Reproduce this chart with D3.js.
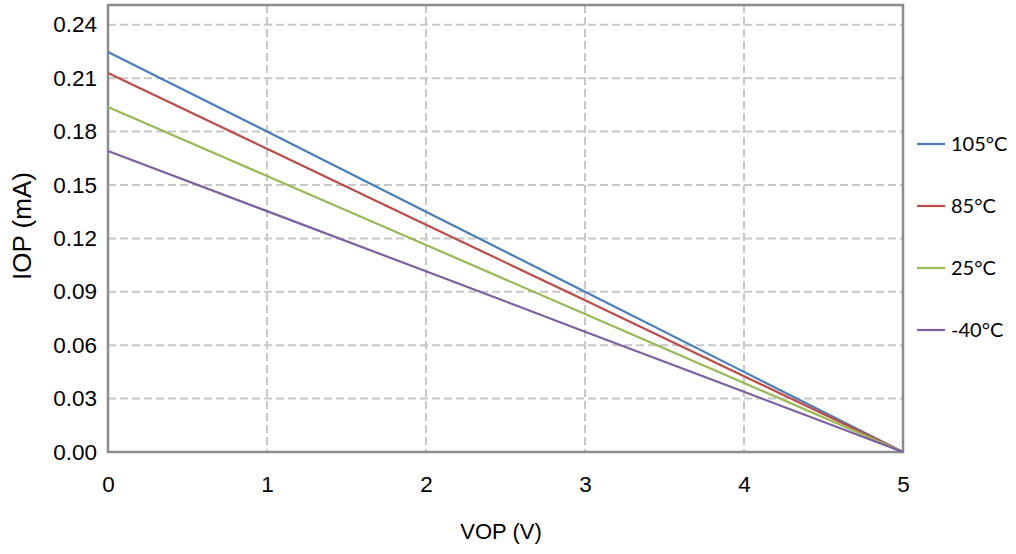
<!DOCTYPE html>
<html>
<head>
<meta charset="utf-8">
<script src="https://cdn.jsdelivr.net/npm/d3@7"></script>
<style>
  body { margin: 0; background: #fff; }
  svg { display: block; }
</style>
</head>
<body>
<div id="chart"></div>
<script>
const vop = [0, 1, 2, 3, 4, 5]
const seriesNames = ['105°C', '85°C', '25°C', '-40°C']
const seriesColors = ['#4a7ebb', '#be4b48', '#98b954', '#7d60a0']
const iop105 = [0.2247, 0.1800, 0.1350, 0.0900, 0.0450, 0]
const iop85 = [0.2129, 0.1703, 0.1277, 0.0852, 0.0426, 0]
const iop25 = [0.1938, 0.1550, 0.1163, 0.0775, 0.0388, 0]
const iopM40 = [0.1691, 0.1353, 0.1015, 0.0676, 0.0338, 0]
const yTicks = [0, 0.03, 0.06, 0.09, 0.12, 0.15, 0.18, 0.21, 0.24]
const xTicks = [0, 1, 2, 3, 4, 5]

const series = [iop105, iop85, iop25, iopM40].map((vals, i) => ({
  name: seriesNames[i],
  color: seriesColors[i],
  values: vals.map((v, j) => ({ x: vop[j], y: v }))
}))

const W = 1016
const H = 554
const margin = { top: 5, right: 113, bottom: 102, left: 108 }
const width = W - margin.left - margin.right
const height = H - margin.top - margin.bottom
const axisFont = 'Liberation Sans, Arial, sans-serif'

const svg = d3.select('#chart')
  .append('svg')
  .attr('width', W)
  .attr('height', H)

const g = svg.append('g')
  .attr('transform', `translate(${margin.left},${margin.top})`)

const x = d3.scaleLinear().domain([0, 5]).range([0, width])
const y = d3.scaleLinear().domain([0, 0.2511]).range([height, 0])

// grid
g.append('g')
  .selectAll('line')
  .data(yTicks.slice(1))
  .join('line')
  .attr('x1', 0)
  .attr('x2', width)
  .attr('y1', d => y(d))
  .attr('y2', d => y(d))
  .attr('stroke', '#c8c8c8')
  .attr('stroke-width', 2)
  .attr('stroke-dasharray', '8,4')

g.append('g')
  .selectAll('line')
  .data(xTicks.slice(1))
  .join('line')
  .attr('x1', d => x(d))
  .attr('x2', d => x(d))
  .attr('y1', 0)
  .attr('y2', height)
  .attr('stroke', '#c8c8c8')
  .attr('stroke-width', 2)
  .attr('stroke-dasharray', '8,4')

// frame
g.append('rect')
  .attr('x', 0)
  .attr('y', 0)
  .attr('width', width)
  .attr('height', height)
  .attr('fill', 'none')
  .attr('stroke', '#8c8c8c')
  .attr('stroke-width', 2.5)

// axes
const yAxis = g.append('g')
  .call(d3.axisLeft(y).tickValues(yTicks).tickFormat(d3.format('.2f')).tickSize(0).tickPadding(11))
yAxis.select('.domain').remove()
yAxis.selectAll('text')
  .attr('font-family', axisFont)
  .attr('font-size', 22.5)
  .attr('fill', '#000')

const xAxis = g.append('g')
  .attr('transform', `translate(0,${height})`)
  .call(d3.axisBottom(x).tickValues(xTicks).tickFormat(d3.format('d')).tickSize(0).tickPadding(24))
xAxis.select('.domain').remove()
xAxis.selectAll('text')
  .attr('font-family', axisFont)
  .attr('font-size', 22.5)
  .attr('fill', '#000')

// lines
const line = d3.line()
  .x(d => x(d.x))
  .y(d => y(d.y))

g.selectAll('.series')
  .data(series)
  .join('path')
  .attr('class', 'series')
  .attr('fill', 'none')
  .attr('stroke', d => d.color)
  .attr('stroke-width', 2.2)
  .attr('d', d => line(d.values))

// axis titles
svg.append('text')
  .attr('transform', `translate(31,226) rotate(-90)`)
  .attr('text-anchor', 'middle')
  .attr('font-family', axisFont)
  .attr('font-size', 26)
  .text('IOP (mA)')

svg.append('text')
  .attr('x', 501)
  .attr('y', 539)
  .attr('text-anchor', 'middle')
  .attr('font-family', axisFont)
  .attr('font-size', 22)
  .text('VOP (V)')

// legend
const legend = svg.append('g')
  .selectAll('g')
  .data(series)
  .join('g')
  .attr('transform', (d, i) => `translate(917,${144 + i * 62})`)

legend.append('line')
  .attr('x1', 0)
  .attr('x2', 28)
  .attr('stroke', d => d.color)
  .attr('stroke-width', 2.2)

legend.append('text')
  .attr('x', 34)
  .attr('dy', '0.35em')
  .attr('font-family', 'Lato, sans-serif')
  .attr('font-size', 20)
  .text(d => d.name)
</script>
</body>
</html>
